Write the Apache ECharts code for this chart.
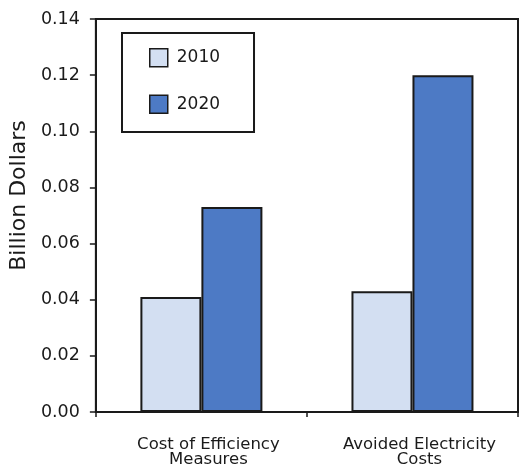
<!DOCTYPE html>
<html><head><meta charset="utf-8">
<script src="https://cdn.jsdelivr.net/npm/echarts@6/dist/echarts.min.js"></script>
<style>html,body{margin:0;padding:0;background:#fff}#c{width:519px;height:473px}</style>
</head><body><div id="c"></div>
<script>
const categories = ['Cost of Efficiency\nMeasures', 'Avoided Electricity\nCosts'];
const seriesNames = ['2010', '2020'];
const values2010 = [0.041, 0.043];
const values2020 = [0.073, 0.120];
const yTicks = [0, 0.02, 0.04, 0.06, 0.08, 0.10, 0.12, 0.14];

const FONT = 'DejaVu Sans';
const INK = '#1a1a1a';
const chart = echarts.init(document.getElementById('c'), null, {renderer: 'canvas'});
chart.setOption({
  animation: false,
  backgroundColor: '#fff',
  grid: {left: 95, right: 1, top: 19, bottom: 61, show: true, borderColor: INK, borderWidth: 2, backgroundColor: 'transparent'},
  legend: {
    data: seriesNames, orient: 'vertical', left: 122, top: 33,
    padding: [15, 34, 18, 27], itemGap: 27, itemWidth: 18, itemHeight: 18,
    borderColor: INK, borderWidth: 2, icon: 'rect',
    textStyle: {fontFamily: FONT, fontSize: 17, color: INK, padding: [0,0,0,4]},
    itemStyle: {borderColor: INK, borderWidth: 1.5}
  },
  xAxis: {
    type: 'category', data: categories,
    axisLine: {lineStyle: {color: INK, width: 2}},
    axisTick: {show: true, length: 5, lineStyle: {color: INK, width: 1.5}},
    axisLabel: {fontFamily: FONT, fontSize: 16.5, color: INK, lineHeight: 15, margin: 25, padding: [0,0,0,14]}
  },
  yAxis: {
    type: 'value', min: yTicks[0], max: yTicks[yTicks.length - 1], interval: 0.02,
    name: 'Billion Dollars', nameLocation: 'middle', nameGap: 64,
    nameTextStyle: {fontFamily: FONT, fontSize: 22, color: INK, padding: [0,0,0,40]},
    splitLine: {show: false},
    axisLine: {show: true, lineStyle: {color: INK, width: 2}},
    axisTick: {show: true, length: 6, lineStyle: {color: INK, width: 1.5}},
    axisLabel: {fontFamily: FONT, fontSize: 17.5, color: INK, margin: 16, formatter: v => v.toFixed(2)}
  },
  series: [
    {name: seriesNames[0], type: 'bar', data: values2010, barWidth: 61, barGap: '0%',
     itemStyle: {color: '#d3dff2', borderColor: INK, borderWidth: 2}},
    {name: seriesNames[1], type: 'bar', data: values2020, barWidth: 61, barGap: '0%',
     itemStyle: {color: '#4d7ac5', borderColor: INK, borderWidth: 2}}
  ]
});
</script></body></html>
